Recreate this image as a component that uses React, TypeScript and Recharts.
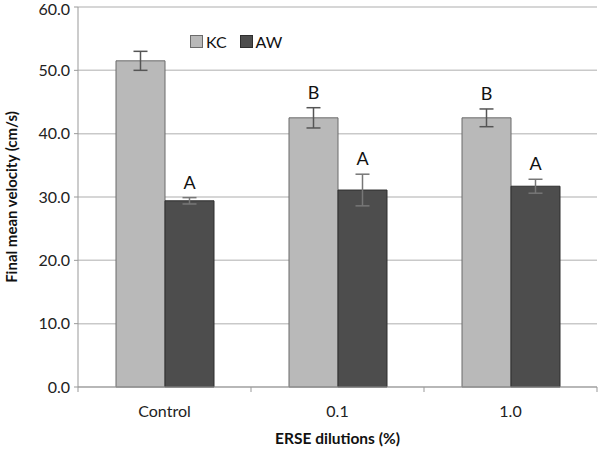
import React from 'react';
import { BarChart, Bar, XAxis, YAxis, CartesianGrid, ErrorBar, LabelList, Label } from 'recharts';

const categories = ['Control', '0.1', '1.0'];
const kcValues = [51.5, 42.5, 42.5];
const kcErrors = [1.5, 1.6, 1.4];
const kcLetters = ['', 'B', 'B'];
const awValues = [29.4, 31.1, 31.7];
const awErrors = [0.5, 2.5, 1.1];
const awLetters = ['A', 'A', 'A'];
const yTicks = [0, 10, 20, 30, 40, 50, 60];

const data = categories.map((name, i) => ({
  name,
  kc: kcValues[i],
  kcErr: kcErrors[i],
  kcLetter: kcLetters[i],
  aw: awValues[i],
  awErr: awErrors[i],
  awLetter: awLetters[i],
}));

const W = 600;
const H = 449;
const M = { top: 7, right: 3, left: 0, bottom: 0 };
const Y_W = 78;
const X_H = 62;
const BAND = (W - M.left - M.right - Y_W) / categories.length;
const FONT = 'Lato, "Open Sans", sans-serif';

const letterLabel = (values: number[], errors: number[]) => (props: any) => {
  const { x, y, width, height, value, index } = props;
  if (!value) return null;
  const perUnit = height / values[index];
  const top = y - errors[index] * perUnit;
  return (
    <text x={x + width / 2} y={top - 9} textAnchor="middle" fontSize={18} fontFamily={FONT} fill="#111">
      {value}
    </text>
  );
};

const XTick = (props: any) => {
  const { x, y, payload, index } = props;
  return (
    <g>
      {index === 0 && <line x1={x - BAND / 2} x2={x - BAND / 2} y1={y - 8} y2={y - 3} stroke="#999" />}
      <line x1={x + BAND / 2} x2={x + BAND / 2} y1={y - 8} y2={y - 3} stroke="#999" />
      <text x={x} y={y + 22} textAnchor="middle" fontSize={16} fontFamily={FONT} fill="#222">
        {payload.value}
      </text>
    </g>
  );
};

const App = () => {
  return (
    <div style={{ position: 'absolute', left: 0, top: 0, width: W, height: H, background: '#fff' }}>
      <BarChart width={W} height={H} data={data} margin={M} barGap={0} barSize={49}>
        <CartesianGrid vertical={false} stroke="#c9c9c9" strokeWidth={1.5} />
        <XAxis
          dataKey="name"
          height={X_H}
          axisLine={{ stroke: '#999' }}
          tickLine={false}
          tick={<XTick />}
          interval={0}
        >
          <Label
            value="ERSE dilutions (%)"
            position="insideBottom"
            offset={5}
            style={{ fontSize: 15.5, fontWeight: 700, fontFamily: FONT, fill: '#111' }}
          />
        </XAxis>
        <YAxis
          width={Y_W}
          domain={[0, 60]}
          ticks={yTicks}
          tickFormatter={(v: number) => v.toFixed(1)}
          axisLine={{ stroke: '#999' }}
          tickLine={{ stroke: '#999' }}
          tickSize={4}
          tickMargin={4}
          tick={{ fontSize: 16, fontFamily: FONT, fill: '#222' }}
        >
          <Label
            value="Final mean velocity (cm/s)"
            angle={-90}
            position="insideLeft"
            offset={12}
            style={{ textAnchor: 'middle', fontSize: 15, fontWeight: 700, fontFamily: FONT, fill: '#111' }}
          />
        </YAxis>
        <Bar dataKey="kc" fill="#b9b9b9" stroke="#6b6b6b" strokeWidth={1} isAnimationActive={false}>
          <ErrorBar dataKey="kcErr" width={7} stroke="#555" strokeWidth={1.5} />
          <LabelList dataKey="kcLetter" content={letterLabel(kcValues, kcErrors)} />
        </Bar>
        <Bar dataKey="aw" fill="#4d4d4d" stroke="#2e2e2e" strokeWidth={1} isAnimationActive={false}>
          <ErrorBar dataKey="awErr" width={7} stroke="#777" strokeWidth={1.5} />
          <LabelList dataKey="awLetter" content={letterLabel(awValues, awErrors)} />
        </Bar>
      </BarChart>
      <div
        style={{
          position: 'absolute',
          left: 190,
          top: 32,
          display: 'flex',
          alignItems: 'center',
          fontFamily: FONT,
          fontSize: 16,
          color: '#111',
        }}
      >
        <span style={{ width: 11, height: 11, background: '#b9b9b9', border: '1px solid #6b6b6b', marginRight: 3 }} />
        <span style={{ marginRight: 13 }}>KC</span>
        <span style={{ width: 11, height: 11, background: '#4d4d4d', border: '1px solid #2e2e2e', marginRight: 3 }} />
        <span>AW</span>
      </div>
    </div>
  );
};

export default App;
